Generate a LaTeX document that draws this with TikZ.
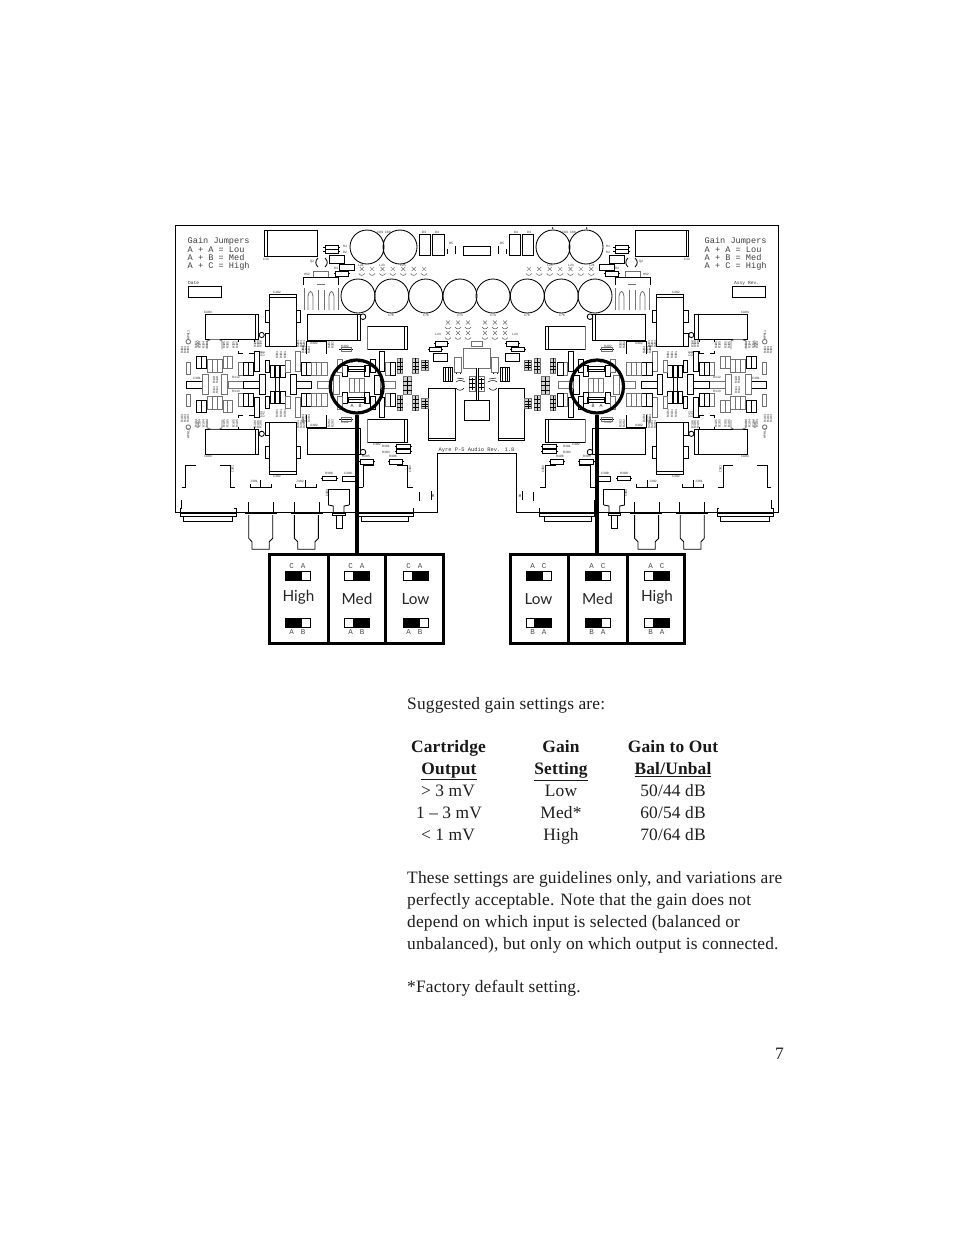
\documentclass[tikz,border=0pt]{standalone}
\usepackage{fontspec}
\setmainfont{Liberation Serif}[LetterSpace=1]
\newfontfamily\monofam{Liberation Mono}
\newfontfamily\gillfam{Lato}
\usetikzlibrary{calc}
\tikzset{
  pcb/.style={draw=black,line width=.85pt},
  pcbg/.style={draw=black!55,line width=.85pt},
  thickring/.style={circle,draw=black,line width=3.2pt,minimum size=53pt,inner sep=0pt},
  lead/.style={draw=black,line width=3.6pt},
  panel/.style={draw=black,line width=3pt},
  tiny/.style={font=\monofam\fontsize{3.3}{3.3}\selectfont,text=black!80,inner sep=0pt},
  tinyv/.style={tiny,rotate=90},
  legend/.style={font=\monofam\fontsize{8.6}{9}\selectfont,text=black!75,anchor=base west,inner sep=0pt},
  pin/.style={font=\monofam\fontsize{7.5}{8}\selectfont,text=black!70,inner sep=0pt},
  gainlabel/.style={font=\gillfam\fontsize{15.3}{18}\selectfont,text=black!85,inner sep=0pt},
  body/.style={font=\fontsize{17.4}{18}\selectfont,text=black!88,inner sep=0pt},
  bodyl/.style={body,anchor=base west},
  bodyc/.style={body,anchor=base},
  head/.style={font=\bfseries\fontsize{17.4}{18}\selectfont,text=black!90,inner sep=0pt,anchor=base},
}
\newcommand\rkb[4]{\draw[pcb] (#1,#2) rectangle (#3,#4);}
\newcommand\rkg[4]{\draw[pcbg] (#1,#2) rectangle (#3,#4);}
\newcommand\cellsb[5]{\foreach \ci in {1,...,#3}{\draw[pcb] ({#1+(\ci-1)*#2},#4) rectangle ({#1+\ci*#2},#5);}}
\newcommand\cellsg[5]{\foreach \ci in {1,...,#3}{\draw[pcbg] ({#1+(\ci-1)*#2},#4) rectangle ({#1+\ci*#2},#5);}}
\newcommand\resh[4]{\draw[pcb] (#1,#2) rectangle (#3,#4);
  \draw[pcb] ({#1-1.5},{(#2+#4)/2}) -- (#1,{(#2+#4)/2}) (#3,{(#2+#4)/2}) -- ({#3+1.5},{(#2+#4)/2});}
\newcommand\hdr[4]{\draw[pcbg,fill=black!18] (#1,#2) rectangle (#3,#4);
  \draw[draw=black,line width=.5pt] ({(#1+#3)/2},#2) -- ({(#1+#3)/2},#4);
  \foreach \hi in {1,2,3}{\draw[draw=black,line width=.4pt] (#1,{#2+(#4-#2)*\hi/4}) -- (#3,{#2+(#4-#2)*\hi/4});}}
\newcommand\indm[2]{\draw[draw=black!55,line width=.45pt] ({#1-2},{#2-2}) -- ({#1+2},{#2+2}) ({#1-2},{#2+2}) -- ({#1+2},{#2-2});
  \draw[draw=black!65,line width=.5pt] ({#1-3},{#2+4.5}) .. controls ({#1-1},{#2+7}) and ({#1+1},{#2+7}) .. ({#1+3},{#2+4.5});}
\newcommand\tl[3]{\node[tiny] at (#1,#2) {#3};}
\newcommand\vl[3]{\node[tinyv] at (#1,#2) {#3};}
\newcommand\quadpart{
  \rkb{205.3}{314}{258.3}{339.3}\draw[pcb] (255,314)--(255,339.3);
  \rkb{269.3}{294.3}{296.7}{346.7}\draw[pcb] (269.3,297.7)--(296.7,297.7);
  \rkb{265}{310}{269.3}{322.7}\rkb{265}{333}{269.3}{346}\rkb{296.7}{310}{300.7}{322.7}
  \draw[pcb] (261.7,335) circle (2.6);
  \rkb{307.3}{314.3}{360.7}{340}\draw[pcb] (357.3,314.3)--(357.3,340);
  \draw[pcb] (363,316.7) circle (2.8);
  \draw[pcbg] (367.7,326) rectangle (407.3,349.3);\draw[pcb] (367.7,326)--(407.3,326)--(407.3,349.3)--(367.7,349.3);\draw[pcb] (404.3,326)--(404.3,349.3);
  \draw[pcbg] (188.3,341.7) circle (2.3);
  \vl{188.3}{335}{HPHL1}
  \foreach \xx in {182,185,188}{\vl{\xx}{350}{R103}}
  \foreach \xx in {196,199.5,203.5,207}{\vl{\xx}{345}{R104}}
  \foreach \xx in {224,227.5,233.5,237}{\vl{\xx}{345}{R105}}
  \foreach \xx in {255,258,260.5}{\vl{\xx}{344}{R106}}
  \foreach \xx in {298,301,304}{\vl{\xx}{344}{R201}}
  \foreach \xx in {329,332.5}{\vl{\xx}{345}{R202}}
  \foreach \xx in {303,306,309}{\vl{\xx}{350}{R204}}
  \foreach \xx in {277,281,285}{\vl{\xx}{355}{R301}}
  \vl{261}{354}{C41}\vl{263.5}{354}{C42}
  \vl{303}{348}{C43}\vl{198}{344}{R107}
  \tl{345}{346}{R402}
  \tl{208}{312}{CA04}\tl{277}{292.5}{C402}\tl{314}{343}{U402}
  \draw[pcbg] (207,349)--(207,341)--(211,339.5)--(219,339.5)--(222,341)--(222,349);
  \draw[pcb] (238.7,342)--(238.7,339.5)--(243,339.5) (249,339.5)--(254,339.5)--(254,342) (238.7,351)--(238.7,353.5)--(243,353.5) (249,353.5)--(254,353.5)--(254,351);
  \draw[pcb] (306.7,354.3)--(306.7,341.7)--(326.7,341.7)--(326.7,354.3);
  \draw[pcb] (339.3,349.7)--(353.3,349.7);\draw[pcbg] (341,347.7) rectangle (351.5,351.7);
  \rkg{186.3}{362}{190.3}{374.3}
  \cellsb{196.3}{5}{2}{356.7}{368.3}
  \cellsg{207.3}{5}{3}{359}{372}
  \cellsg{223}{4.7}{2}{356.7}{368.3}
  \rkg{238.7}{362}{243.7}{375}\cellsb{243.7}{5}{2}{362}{375}
  \rkb{254.3}{351}{259.7}{371.7}
  \rkb{265.3}{360}{269.7}{372.3}
  \rkb{270.7}{365}{274.7}{377.7}\rkb{275.7}{365}{279.7}{377.7}\rkb{280.7}{365}{285.3}{377.7}
  \rkg{285.7}{360}{290}{372.3}
  \rkg{295.3}{351}{300.7}{371.7}
  \cellsb{301}{5.2}{2}{362}{375}\cellsg{311.4}{5.2}{3}{362}{375}
  \draw[pcb] (275.7,377.7)--(275.7,384.4) (279.7,377.7)--(279.7,384.4);
  \rkb{348.3}{366.7}{365.7}{371.7}\draw[pcb] (348.3,369)--(365.7,369);
  \rkb{342.3}{365}{347.7}{376.7}\rkb{364.3}{365}{369.3}{376.7}
  \rkg{337.7}{359}{342.7}{372.3}\rkb{370}{359}{375}{372.3}
  \rkb{379.3}{351}{384.7}{371.7}
  \rkg{385.3}{362}{390}{375.7}\rkb{390}{362}{395.7}{375.7}
  \hdr{397.3}{358.3}{402.7}{373.3}
  \hdr{412.7}{358.3}{418.7}{373.3}
  \hdr{421.7}{360}{428.3}{370}
}
\newcommand\midpart{
  \rkb{186.3}{381}{202}{388.3}
  \rkg{202}{374.3}{208}{394.3}
  \rkg{221.3}{374.3}{227.3}{394.3}
  \rkg{228}{381}{243.7}{388.3}
  \rkb{243.7}{381}{259.7}{388.3}
  \rkb{259.7}{374.3}{265.3}{394.3}
  \rkb{290.7}{374.3}{296}{394.3}
  \rkb{296}{381}{311.3}{388.3}
  \rkg{317.3}{381}{330}{388.3}
  \rkg{333.3}{375}{339.3}{394.3}
  \cellsg{349.3}{5}{3}{378.3}{392.7}
  \rkb{374}{375}{380}{394.3}
  \rkg{380}{381}{395}{388.3}
  \foreach \xx in {214,217}{\vl{\xx}{380}{R110}\vl{\xx}{390}{R111}}
  \tl{197}{378}{C301}\tl{236}{377.5}{R112}\tl{236}{391.5}{R113}
  \hdr{403.3}{376.7}{411.7}{394.3}
}
\newcommand\toppart{
  \rkb{264.3}{230}{317.3}{256}\draw[pcb] (267,230)--(267,256);
  \tl{266}{259}{C13}
  \draw[pcb] (367,247) circle (17) (400,247) circle (17);
  \tl{384}{232}{C89 C88}
  \rkb{419.3}{234}{430.7}{255}\rkb{432.7}{234}{444}{255}
  \tl{424}{232}{D3}\tl{437}{232}{D4}
  \draw[pcb] (447,249)--(447,254) (455,246)--(455,254);\tl{451}{243}{R5}
  \foreach \xx in {358,391.7,425.7,460}{\draw[pcb] (\xx,296) circle (17);}
  \tl{391}{315}{C76}\tl{426}{315}{C78}\tl{460}{315}{C74}
  \foreach \ii in {0,...,6}{\indm{361.7+10.4*\ii}{269}}
  \tl{361}{265}{L21}\tl{382}{265}{L23}\tl{403}{265}{L25}
  \draw[pcb] (325,245) rectangle (338,253);\draw[pcb] (325,249)--(338,249) (323,247)--(325,247) (338,247)--(340,247) (323,251)--(325,251) (338,251)--(340,251);
  \rkb{329}{255}{344}{263}\rkb{339}{264}{354}{270}
  \resh{335}{271}{348}{276}
  \draw[pcb] (318,258) .. controls (315,261) and (315,264) .. (318,267);
  \draw[pcb] (325,258) .. controls (328,261) and (328,264) .. (325,267);
  \tl{312}{262}{Q2}\rkg{313}{271}{328}{277}
  \tl{345}{246}{R1}\tl{345}{252}{R2}\tl{336}{268}{R3}
  \draw[pcb] (303,285)--(303,277)--(338,277)--(338,285);
  \draw[pcbg] (304,310)--(304,288) (338,310)--(338,288);
  \draw[pcbg] (308,310)--(308,296) .. controls (309,290) and (312,290) .. (313,296)--(313,310);
  \draw[pcbg] (329,310)--(329,296) .. controls (330,290) and (333,290) .. (334,296)--(334,310);
  \draw[pcbg] (317,284)--(325,284) (318,290)--(318,310) (324,290)--(324,310);
  \tl{307}{274}{HS2}
  \foreach \xx in {448,458,468}{\indm{\xx}{322.5}\indm{\xx}{333}}
  \tl{438}{334}{L24}
  \resh{435}{341.7}{447}{346}\resh{429}{347.3}{441.5}{351.7}
  \rkb{433.3}{353.3}{447.3}{361}
  \rkg{454.3}{357.3}{461.7}{372.7}
  \draw[pcb] (456,372.7)--(456,374) (460,372.7)--(460,374);
  \foreach \ii in {443.3,445.7,448,450.3,452.7}{\draw[pcb] (\ii,367.7)--(\ii,381);}
  \draw[pcb] (443.3,367.7)--(452.7,367.7) (443.3,381)--(452.7,381);
  \draw[pcb,line width=.5pt] (457,378)--(464,379) (456,382) .. controls (458,380) and (462,380) .. (465,382);
  \draw[pcb,line width=.5pt] (456,388) .. controls (458,391) and (462,391) .. (464,388);
  \rkb{428.3}{388.3}{455}{440.7}\draw[pcb] (428.3,438.3)--(455,438.3);
  \rkg{469}{376}{475}{391.7}\draw[pcb] (472,378)--(472,390);
  \foreach \yy in {379,383,387}{\draw[pcb,line width=.5pt] (469,\yy)--(475,\yy);}
}
\newcommand\botpart{
  \resh{360}{459.3}{373.3}{464}\resh{389.3}{459.3}{402.7}{464}
  \resh{396.7}{444}{410.7}{448.3}\resh{396.7}{449}{410.7}{453.3}
  \resh{322.3}{476}{336}{480}\rkb{342.3}{476}{355}{481}
  \tl{377}{444}{C402}\tl{386}{446}{R301}\tl{386}{452}{R303}
  \tl{366}{456.5}{R305}\tl{393}{456.5}{R306}\tl{329}{473.5}{R308}\tl{348}{473.5}{C300}
  \draw[pcb] (181.7,487.3)--(185.7,487.3)--(185.7,465)--(196,465) (220,465)--(230,465)--(230,487.3)--(235,487.3);
  \draw[pcb] (181.7,500)--(181.7,508)--(180,508)--(180,513) (236,513)--(236,508)--(234,508);
  \rkb{180}{513}{236}{516}
  \draw[pcb] (183.3,516)--(183.3,521.7)--(232.3,521.7)--(232.3,516);
  \vl{232.5}{469}{C301}
  \draw[pcb] (363.3,487.3)--(358,487.3) (363,487.3)--(363,465)--(374,465) (397,465)--(407.3,465)--(407.3,487.3)--(413,487.3);
  \draw[pcb] (358.3,500)--(358.3,513) (413.3,508)--(413.3,513);
  \rkb{358.3}{513}{413.3}{516}
  \draw[pcb] (361.7,516)--(361.7,521.7)--(408.3,521.7)--(408.3,516);
  \vl{410}{469}{C302}
  \foreach \xa in {0,45.7}{
    \begin{scope}[shift={(\xa,0)}]
      \draw[pcb] (250,484)--(250,487)--(271,487)--(271,484) (260,480)--(260,487);
      \draw[pcb] (248.3,502)--(248.3,513) (273.3,502)--(273.3,513);
      \draw[draw=black,line width=1.3pt] (245,513.3)--(277,513.3);
      \draw[pcb] (248.7,515)--(248.7,538.3)--(252,541.7)--(252,549.3)--(269.3,549.3)--(269.3,541.7)--(272.7,538.3)--(272.7,515);
    \end{scope}
  }
  \tl{254}{481}{J301}\tl{300}{481}{J302}
  \draw[pcb] (328.3,505)--(328.3,489.3)--(349.3,489.3)--(349.3,505);
  \draw[pcb] (328.3,505)--(333.3,506)--(333.3,513) (349.3,505)--(344,506)--(344,513);
  \draw[pcb] (332.3,513.3)--(345,513.3)--(345,515.3)--(332.3,515.3)--cycle;
  \rkb{336}{515.3}{342}{528.5}
  \vl{327}{493}{C303}
  \draw[pcb] (419.3,492)--(419.3,501);\draw[pcb] (431,491)--(431,500);
  \vl{433}{496}{R9}
}
\begin{document}
\begin{tikzpicture}[x=1pt,y=-1pt]
\useasboundingbox (0,0) rectangle (954,1235);
\fill[white] (0,0) rectangle (954,1235);
\draw[pcb] (175,225) -- (778,225) -- (778,512.5) -- (516.7,512.5) -- (516.7,453.3) -- (437.7,453.3) -- (437.7,512.5) -- (175,512.5) -- cycle;
\foreach \mx in {1,-1}{
  \begin{scope}[shift={(476.5,0)},xscale=\mx,shift={(-476.5,0)}]
    \toppart
    \botpart
    \midpart
    \quadpart
    \begin{scope}[shift={(0,384.4)},yscale=-1,shift={(0,-384.4)}]
      \quadpart
    \end{scope}
    \rkb{188}{286.7}{221}{297.3}
  \end{scope}
}
\rkb{463}{246}{490}{255}
\rkg{471}{341.7}{482.7}{346.7}
\draw[pcbg] (476,368.3)--(463.3,368.3)--(463.3,348.3)--(490,348.3)--(490,368.3)--(478.5,368.3);
\draw[pcb] (476,368.3)--(476,400.7) (478.3,368.3)--(478.3,400.7);
\rkb{464.3}{400.7}{489}{420.7}
\node[legend] at (187.5,243.5) {Gain Jumpers};
\node[legend] at (187.5,252.5) {A + A = Lou};
\node[legend] at (187.5,260.5) {A + B = Med};
\node[legend] at (187.5,268.5) {A + C = High};
\node[legend] at (704.5,243.5) {Gain Jumpers};
\node[legend] at (704.5,252.5) {A + A = Lou};
\node[legend] at (704.5,260.5) {A + B = Med};
\node[legend] at (704.5,268.5) {A + C = High};
\node[tiny,font=\monofam\fontsize{4.6}{5}\selectfont,anchor=base west] at (188,284) {Date};
\node[tiny,font=\monofam\fontsize{4.6}{5}\selectfont,anchor=base west] at (734,284) {Assy Rev.};
\node[tiny,font=\monofam\fontsize{5.4}{6}\selectfont] at (476.5,450) {Ayre P-5 Audio Rev. 1.8};
\fill (552.7,228) circle (.8) (586.7,228) circle (.8);
\node[tiny,font=\monofam\fontsize{5}{5}\selectfont] at (352,361.5) {C};
\node[tiny,font=\monofam\fontsize{5}{5}\selectfont] at (360,361.5) {A};
\node[tiny,font=\monofam\fontsize{5}{5}\selectfont] at (352,406) {A};
\node[tiny,font=\monofam\fontsize{5}{5}\selectfont] at (360,406) {B};
\node[tiny,font=\monofam\fontsize{5}{5}\selectfont] at (593,361.5) {A};
\node[tiny,font=\monofam\fontsize{5}{5}\selectfont] at (601,361.5) {C};
\node[tiny,font=\monofam\fontsize{5}{5}\selectfont] at (593,406) {B};
\node[tiny,font=\monofam\fontsize{5}{5}\selectfont] at (601,406) {A};
\node[thickring] (ringL) at (356.7,386.5) {};
\node[thickring] (ringR) at (597,386.5) {};
\node[panel,rectangle,minimum width=174pt,minimum height=88.5pt,inner sep=0pt] (panelL) at (356,599) {};
\node[panel,rectangle,minimum width=174pt,minimum height=88.5pt,inner sep=0pt] (panelR) at (597.5,599) {};
\draw[lead] (ringL.south) -- (ringL.south |- panelL.north);
\draw[lead] (ringR.south) -- (ringR.south |- panelR.north);
\draw[panel] (328,554) -- (328,643) (385.5,554) -- (385.5,643) (568.5,554) -- (568.5,643) (627,554) -- (627,643);
\newcommand\swt[4]{\draw[draw=black,line width=.8pt,fill=white] (#1,#2) rectangle ({#1+25},{#2+9});
  \fill[black] (#3,#2) rectangle (#4,{#2+9});}
\swt{285}{571}{285}{302}\swt{285}{618}{285}{302}
\swt{344}{571}{353}{369}\swt{344}{618}{353}{369}
\swt{403}{571}{412}{428}\swt{403}{618}{403}{420}
\swt{526}{571}{526}{543}\swt{526}{618}{534}{551}
\swt{585}{571}{585}{602}\swt{585}{618}{585}{602}
\swt{644}{571}{653}{669}\swt{644}{618}{653}{669}
\foreach \xa/\xb/\ta/\tb/\ba/\bb in {291.5/303/C/A/A/B,350.5/362/C/A/A/B,408.5/420/C/A/A/B,532.5/544/A/C/B/A,591.5/603/A/C/B/A,650.5/662/A/C/B/A}{
  \node[pin] at (\xa,566.5) {\ta};\node[pin] at (\xb,566.5) {\tb};
  \node[pin] at (\xa,632) {\ba};\node[pin] at (\xb,632) {\bb};
}
\node[gainlabel] at (298.5,597) {High};
\node[gainlabel] at (357,599) {Med};
\node[gainlabel] at (415.5,599) {Low};
\node[gainlabel] at (538.5,599) {Low};
\node[gainlabel] at (597.5,599) {Med};
\node[gainlabel] at (657,597) {High};
\node[bodyl] at (407,709.3) {Suggested gain settings are:};
\node[head] at (448.5,752.3) {Cartridge};
\node[head] at (561,752.3) {Gain};
\node[head] at (673,752.3) {Gain to Out};
\node[head] at (449,774.5) {\underline{Output}};
\node[head] at (561,774.5) {\underline{Setting}};
\node[head] at (673,774.5) {\underline{Bal/Unbal}};
\node[bodyc] at (448,796.5) {> 3 mV};
\node[bodyc] at (561,796.5) {Low};
\node[bodyc] at (673,796.5) {50/44 dB};
\node[bodyc] at (449,818.3) {1 – 3 mV};
\node[bodyc] at (561,818.3) {Med*};
\node[bodyc] at (673,818.3) {60/54 dB};
\node[bodyc] at (448,840) {< 1 mV};
\node[bodyc] at (561,840) {High};
\node[bodyc] at (673,840) {70/64 dB};
\node[bodyl] at (407,883.5) {These settings are guidelines only, and variations are};
\node[bodyl] at (407,905.3) {perfectly acceptable. Note that the gain does not};
\node[bodyl] at (407,927) {depend on which input is selected (balanced or};
\node[bodyl] at (407,949) {unbalanced), but only on which output is connected.};
\node[bodyl] at (407,992) {*Factory default setting.};
\node[body,anchor=base east] at (784,1059) {7};
\end{tikzpicture}
\end{document}
